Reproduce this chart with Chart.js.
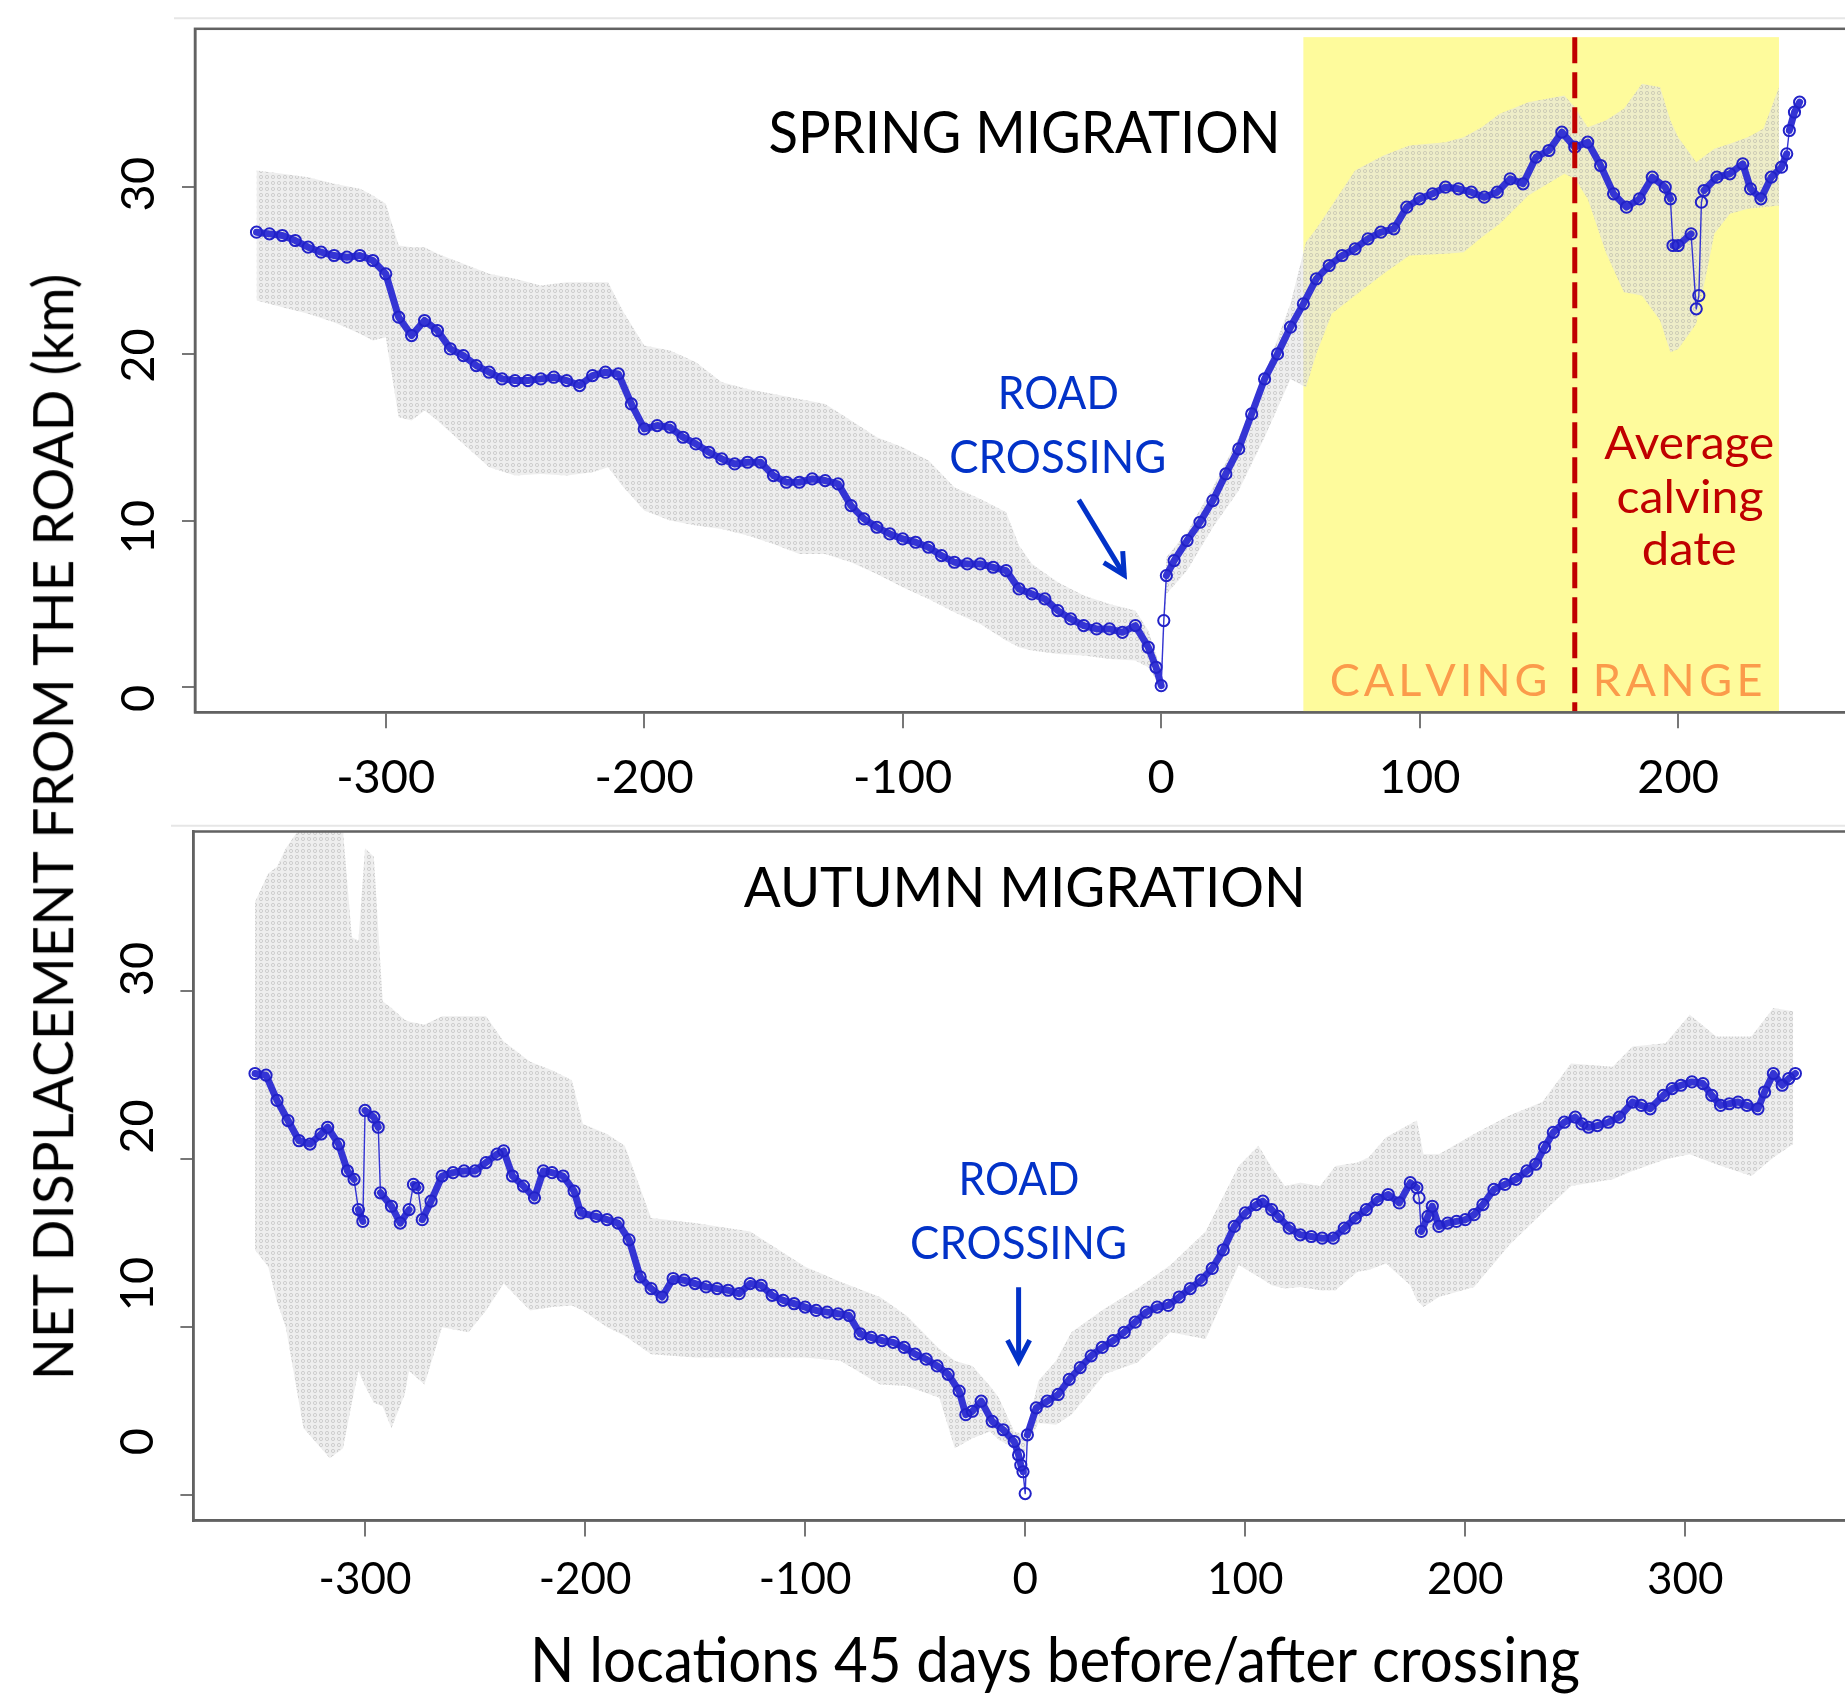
<!DOCTYPE html>
<html>
<head>
<meta charset="utf-8">
<script src="https://cdn.jsdelivr.net/npm/chart.js@4.4.1/dist/chart.umd.min.js"></script>
<style>
  html, body { margin: 0; padding: 0; background: #fff; }
  body { width: 1845px; height: 1698px; overflow: hidden; position: relative; }
  canvas { position: absolute; left: 0; }
  #springCanvas { top: 0; }
  #autumnCanvas { top: 800px; }
  #yTitle { position: absolute; font: 56px Lato; line-height: 56px; white-space: nowrap; color: #000; transform-origin: 50% 50%; }
</style>
</head>
<body>
<canvas id="springCanvas" width="1880" height="800"></canvas>
<canvas id="autumnCanvas" width="1880" height="898"></canvas>
<div id="yTitle">NET DISPLACEMENT FROM THE ROAD (km)</div>
<script>
// ---- data (x = location index around crossing, y = km) ----

// spring migration, mean displacement
const springX = [-350,-345,-340,-335,-330,-325,-320,-315,-310,-305,-300,-295,-290,-285,-280,-275,-270,-265,-260,-255,
  -250,-245,-240,-235,-230,-225,-220,-215,-210,-205,-200,-195,-190,-185,-180,-175,-170,-165,-160,-155,
  -150,-145,-140,-135,-130,-125,-120,-115,-110,-105,-100,-95,-90,-85,-80,-75,-70,-65,-60,-55,
  -50,-45,-40,-35,-30,-25,-20,-15,-10,-5,-2,0,1,2,
  5,10,15,20,25,30,35,40,45,50,55,60,65,70,75,80,85,90,95,100,105,110,115,120,125,130,135,140,145,150,
  155,160,165,170,175,180,185,190,195,197,198,200,205,207,208,209,210,215,220,225,228,232,236,240,242,243,245,247];
const springY = [27.3,27.2,27.1,26.8,26.4,26.1,25.9,25.8,25.9,25.6,24.8,22.2,21.1,22.0,21.4,20.3,19.9,19.3,18.9,18.5,
  18.4,18.4,18.5,18.6,18.4,18.1,18.7,18.9,18.8,17.0,15.5,15.7,15.6,15.0,14.6,14.1,13.7,13.4,13.5,13.5,
  12.7,12.3,12.3,12.5,12.4,12.2,10.9,10.1,9.6,9.2,8.9,8.7,8.4,7.9,7.5,7.4,7.4,7.2,7.0,5.9,
  5.6,5.3,4.6,4.1,3.7,3.5,3.5,3.3,3.7,2.4,1.2,0.1,4.0,6.7,
  7.6,8.8,9.9,11.2,12.8,14.3,16.4,18.5,20.0,21.6,23.0,24.5,25.3,25.9,26.3,26.9,27.3,27.5,28.8,29.3,29.6,30.0,29.9,29.7,29.4,29.7,30.5,30.2,31.8,32.2,
  33.3,32.4,32.7,31.3,29.6,28.8,29.3,30.6,30.0,29.3,26.5,26.5,27.2,22.7,23.5,29.1,29.8,30.6,30.8,31.4,29.9,29.3,30.6,31.2,32.0,33.4,34.5,35.1];

// spring migration, grey envelope
const springBandX = [-350,-340,-330,-320,-310,-305,-300,-295,-290,-285,-280,-270,-260,-250,-240,-230,-220,-214,-208,-200,
  -190,-180,-170,-160,-150,-140,-130,-120,-110,-100,-90,-80,-70,-60,-55,-50,-40,-30,-20,-10,-5,0,
  2,10,20,30,40,50,56,60,66,75,81,86,96,110,117,124,131,142,156,160,165,172,179,186,193,197,200,207,214,220,227,233,239];
const springBandHi = [31.0,30.8,30.6,30.2,29.9,29.5,29.0,26.5,26.4,26.4,26.0,25.4,24.8,24.5,24.1,24.3,24.3,24.3,22.5,20.5,
  20.2,19.5,18.3,17.9,17.6,17.3,17.0,16.0,15.0,14.4,13.6,12.0,11.3,10.5,8.5,7.4,6.3,5.5,5.0,4.6,3.4,1.0,
  7.8,9.3,12.0,15.0,18.8,23.0,26.7,27.5,28.9,31.0,31.5,31.9,32.5,32.7,33.0,33.6,34.4,35.1,35.5,34.8,33.6,34.0,34.7,36.2,36.0,34.0,33.0,31.5,32.3,32.6,33.0,33.5,36.0];
const springBandLo = [23.2,22.8,22.4,21.9,21.2,20.8,21.0,16.2,16.0,16.6,16.0,14.6,13.2,12.7,12.8,12.7,12.9,13.2,12.0,10.6,
  10.0,9.7,9.5,9.1,8.6,8.0,8.0,7.5,6.8,6.0,5.3,4.5,3.8,2.8,2.4,2.2,2.0,1.9,1.7,1.6,1.2,0.0,
  5.6,7.0,9.6,11.8,15.0,18.5,18.0,20.0,22.4,23.5,24.2,24.8,25.9,26.0,26.1,27.0,27.8,29.5,30.8,30.5,29.3,26.1,23.7,23.5,22.0,20.1,20.3,21.8,27.2,28.4,28.7,28.8,28.9];

// calving range and average calving date (spring panel)
const calvingRange = [55, 239];
const calvingTop = 39;
const calvingDate = 160;

// autumn migration, mean displacement
const autumnX = [-350,-345,-340,-335,-330,-325,-320,-317,-312,-308,-305,-303,-301,-300,-296,-294,-293,-288,-284,-280,
  -278,-276,-274,-270,-265,-260,-255,-250,-245,-240,-237,-233,-228,-223,-219,-215,-210,-205,-202,-195,
  -190,-185,-180,-175,-170,-165,-160,-155,-150,-145,-140,-135,-130,-125,-120,-115,-110,-105,-100,-95,
  -90,-85,-80,-75,-70,-65,-60,-55,-50,-45,-40,-35,-30,-27,-24,-20,-15,-10,-5,-3,
  -2,-1,0,1,5,10,15,20,25,30,35,40,45,50,55,60,65,70,75,80,
  85,90,95,100,105,108,112,115,120,125,130,135,140,145,150,155,160,165,170,175,
  178,179,180,183,185,188,192,196,200,204,208,213,218,223,228,232,236,240,245,250,
  253,256,260,265,270,276,280,284,290,294,298,303,308,312,316,320,324,328,333,336,340,344,347,350];
const autumnY = [25.1,25.0,23.5,22.3,21.1,20.9,21.5,21.9,20.9,19.3,18.8,17.0,16.3,22.9,22.5,21.9,18.0,17.2,16.2,17.0,
  18.5,18.3,16.4,17.5,19.0,19.2,19.3,19.3,19.8,20.3,20.5,19.0,18.4,17.7,19.3,19.2,19.0,18.1,16.8,16.6,
  16.4,16.2,15.2,13.0,12.3,11.8,12.9,12.8,12.6,12.4,12.3,12.2,12.0,12.6,12.5,11.9,11.6,11.4,11.2,11.0,
  10.9,10.8,10.7,9.6,9.4,9.2,9.1,8.8,8.4,8.1,7.7,7.2,6.2,4.8,5.0,5.6,4.4,3.9,3.2,2.4,
  1.8,1.4,0.1,3.6,5.2,5.6,6.0,6.9,7.6,8.3,8.8,9.2,9.7,10.3,10.9,11.2,11.3,11.8,12.3,12.8,
  13.5,14.6,16.0,16.8,17.3,17.5,17.0,16.6,15.9,15.5,15.4,15.3,15.3,15.9,16.5,17.0,17.6,17.9,17.4,18.6,
  18.3,17.7,15.7,16.6,17.2,16.0,16.2,16.3,16.4,16.7,17.3,18.2,18.5,18.8,19.3,19.7,20.7,21.6,22.2,22.5,
  22.1,21.9,22.0,22.2,22.5,23.4,23.2,23.0,23.8,24.2,24.4,24.6,24.5,23.8,23.2,23.3,23.4,23.2,23.0,24.0,25.1,24.4,24.8,25.1];

// autumn migration, grey envelope
const autumnBandX = [-350,-344,-340,-336,-328,-316,-310,-306,-303,-300,-296,-292,-288,-282,-280,-273,-265,-253,-245,-237,
  -225,-215,-206,-201,-190,-182,-170,-150,-125,-100,-84,-66,-54,-39,-32,-24,-16,-12,-5,0,
  1,6,14,21,36,51,66,82,97,106,112,118,125,134,141,151,156,164,175,178,181,188,204,220,235,248,267,276,291,302,314,330,340,349];
const autumnBandHi = [35.3,37.0,37.4,38.5,40,40,39.5,33.2,33.0,38.5,38.0,29.4,29.0,28.3,28.2,28.0,28.5,28.5,28.5,27.0,
  25.8,25.3,24.7,22.1,21.5,20.8,16.5,16.2,15.7,13.6,12.7,11.8,10.7,8.7,8.0,7.7,6.5,5.8,3.8,3.6,
  4.0,6.8,8.0,9.7,11.1,12.3,13.7,15.7,19.6,20.8,19.5,18.4,18.6,18.4,19.6,19.8,20.1,21.3,22.1,22.3,20.3,20.3,21.5,22.6,23.4,25.7,25.5,26.7,26.9,28.6,27.3,27.3,29.0,28.8];
const autumnBandLo = [14.6,13.6,11.5,10.0,4.0,2.2,2.8,5.5,7.4,6.5,5.5,5.3,4.0,6.0,7.4,6.6,10.0,9.7,11.0,12.6,
  11.0,11.2,11.3,11.0,10.0,9.5,8.4,8.2,8.2,8.2,8.0,6.6,6.5,5.8,2.8,3.4,3.8,3.3,2.8,2.6,
  3.0,4.3,4.2,4.8,7.2,7.9,9.7,9.3,13.7,13.0,12.5,12.3,12.4,12.2,12.2,13.3,13.4,13.8,12.5,11.6,11.2,11.8,12.4,14.9,16.8,18.4,18.8,19.3,20.0,20.3,19.7,19.0,20.1,20.9];

// ---- styles ----
const BLUE_LINE = 'rgb(52,52,212)';
const BLUE_PT = 'rgb(34,34,200)';
const YELLOW = 'rgb(254,251,156)';
const TXT_BLUE = '#0232c8';
const TXT_RED = '#c00000';
const TXT_ORANGE = '#fb9b4b';
const FRAME = '#626262';

Chart.defaults.font.family = 'Lato';

// speckled grey fill, a bit like the stacked grey circles of the original
function bandPattern() {
  const c = document.createElement('canvas');
  c.width = 6; c.height = 6;
  const g = c.getContext('2d');
  g.fillStyle = 'rgba(228,228,228,0.62)';
  g.fillRect(0, 0, 6, 6);
  g.strokeStyle = 'rgba(150,150,150,0.45)';
  g.lineWidth = 0.8;
  g.beginPath(); g.arc(3, 3, 1.6, 0, Math.PI * 2); g.stroke();
  return g.createPattern(c, 'repeat');
}
const BAND = bandPattern();

function pts(xs, ys) {
  if (xs.length !== ys.length) console.error('length mismatch', xs.length, ys.length);
  return xs.map(function (x, i) { return { x: x, y: ys[i] }; });
}

function drawFitted(ctx, text, cx, baseline, width, size, color) {
  ctx.save();
  ctx.font = size + 'px Lato';
  const w = ctx.measureText(text).width;
  ctx.translate(cx, baseline);
  ctx.scale(width / w, 1);
  ctx.fillStyle = color;
  ctx.textAlign = 'center';
  ctx.textBaseline = 'alphabetic';
  ctx.fillText(text, 0, 0);
  ctx.restore();
}

// letter-spaced word stretched between two x pixels
function drawSpaced(ctx, text, left, right, baseline, size, color) {
  ctx.save();
  ctx.font = size + 'px Lato';
  ctx.fillStyle = color;
  ctx.textAlign = 'left';
  ctx.textBaseline = 'alphabetic';
  const chars = text.split('');
  const ws = chars.map(function (c) { return ctx.measureText(c).width; });
  const total = ws.reduce(function (a, b) { return a + b; }, 0);
  const gap = (right - left - total) / (chars.length - 1);
  let x = left;
  chars.forEach(function (c, i) { ctx.fillText(c, x, baseline); x += ws[i] + gap; });
  ctx.restore();
}

function drawArrow(ctx, x0, y0, x1, y1, color) {
  const ang = Math.atan2(y1 - y0, x1 - x0), h = 24, spread = 0.48;
  ctx.save();
  ctx.strokeStyle = color;
  ctx.lineWidth = 5;
  ctx.beginPath(); ctx.moveTo(x0, y0); ctx.lineTo(x1, y1); ctx.stroke();
  ctx.beginPath();
  ctx.moveTo(x1 - h * Math.cos(ang - spread), y1 - h * Math.sin(ang - spread));
  ctx.lineTo(x1, y1);
  ctx.lineTo(x1 - h * Math.cos(ang + spread), y1 - h * Math.sin(ang + spread));
  ctx.stroke();
  ctx.restore();
}

// draws the R-style box, annotations, rotated y labels etc.
function decoPlugin(p) {
  return {
    id: 'deco',
    beforeDatasetsDraw: function (chart) {
      if (!p.calving) return;
      const ctx = chart.ctx, a = chart.chartArea, x = chart.scales.x, y = chart.scales.y;
      const l = x.getPixelForValue(p.calving.range[0]), r = x.getPixelForValue(p.calving.range[1]);
      const t = y.getPixelForValue(p.calving.top);
      ctx.save();
      ctx.fillStyle = YELLOW;
      ctx.fillRect(l, t, r - l, a.bottom - t);
      ctx.restore();
    },
    afterDatasetsDraw: function (chart) {
      const ctx = chart.ctx, a = chart.chartArea, x = chart.scales.x, y = chart.scales.y;
      if (p.calving) {
        const px = x.getPixelForValue(p.calving.date);
        ctx.save();
        ctx.strokeStyle = TXT_RED;
        ctx.lineWidth = 5;
        ctx.setLineDash([26, 9]);
        ctx.beginPath();
        ctx.moveTo(px, y.getPixelForValue(p.calving.top));
        ctx.lineTo(px, a.bottom);
        ctx.stroke();
        ctx.restore();
      }
      ctx.save();
      ctx.strokeStyle = FRAME;
      ctx.lineWidth = 2.5;
      ctx.strokeRect(a.left, a.top, a.right - a.left, a.bottom - a.top);
      // faint rule above the panel
      ctx.strokeStyle = '#e6e6e6';
      ctx.lineWidth = 2;
      ctx.beginPath();
      ctx.moveTo(p.rule.x, a.top - p.rule.gap);
      ctx.lineTo(chart.width, a.top - p.rule.gap);
      ctx.stroke();
      ctx.restore();
    },
    afterDraw: function (chart) {
      const ctx = chart.ctx, a = chart.chartArea, x = chart.scales.x, y = chart.scales.y;
      // y tick labels, rotated like R's default las=0
      ctx.save();
      ctx.font = '47px Lato';
      ctx.fillStyle = '#000';
      ctx.textAlign = 'center';
      ctx.textBaseline = 'middle';
      y.ticks.forEach(function (t) {
        const py = y.getPixelForValue(t.value) + p.labelShift[0] + (t.value - 15) * p.labelShift[1];
        ctx.save();
        ctx.translate(a.left - 56, py);
        ctx.rotate(-Math.PI / 2);
        ctx.fillText(String(t.value), 0, 0);
        ctx.restore();
      });
      ctx.restore();

      p.notes.forEach(function (n) {
        drawFitted(ctx, n.text, x.getPixelForValue(n.x), y.getPixelForValue(n.y), n.width, n.size, n.color);
      });
      p.spaced.forEach(function (n) {
        drawSpaced(ctx, n.text, x.getPixelForValue(n.from), x.getPixelForValue(n.to), y.getPixelForValue(n.y), n.size, n.color);
      });
      p.arrows.forEach(function (ar) {
        drawArrow(ctx, x.getPixelForValue(ar.from[0]), y.getPixelForValue(ar.from[1]),
          x.getPixelForValue(ar.to[0]), y.getPixelForValue(ar.to[1]), TXT_BLUE);
      });
      if (p.xTitle) {
        drawFitted(ctx, p.xTitle.text, p.xTitle.cx, p.xTitle.baseline, p.xTitle.width, p.xTitle.size, '#000');
      }
    }
  };
}

function makePanel(canvasId, p) {
  const steep = function (c) {
    const dx = Math.abs(c.p1.parsed.x - c.p0.parsed.x);
    const dy = Math.abs(c.p1.parsed.y - c.p0.parsed.y);
    return dy / Math.max(dx, 1) > 0.6;
  };
  return new Chart(document.getElementById(canvasId), {
    type: 'line',
    data: {
      datasets: [
        // envelope drawn behind (higher order = further back)
        { label: 'upper', order: 2, data: pts(p.bandX, p.bandHi), fill: '+1', backgroundColor: BAND,
          borderColor: 'rgba(0,0,0,0)', borderWidth: 0, pointRadius: 0, tension: 0 },
        { label: 'lower', order: 3, data: pts(p.bandX, p.bandLo), fill: false,
          borderColor: 'rgba(0,0,0,0)', borderWidth: 0, pointRadius: 0, tension: 0 },
        { label: 'mean', order: 1, data: pts(p.x, p.y), fill: false, tension: 0,
          borderColor: BLUE_LINE, borderWidth: 7, borderJoinStyle: 'round', borderCapStyle: 'round',
          pointRadius: 5.6, pointBorderWidth: 2, pointBorderColor: BLUE_PT, pointBackgroundColor: 'rgba(0,0,0,0)',
          segment: { borderWidth: function (c) { return steep(c) ? 1.4 : 7; } } }
      ]
    },
    options: {
      responsive: false,
      animation: false,
      devicePixelRatio: 1,
      events: [],
      layout: { padding: { top: p.padTop, right: p.padRight, left: 0, bottom: 0 } },
      plugins: { legend: { display: false }, tooltip: { enabled: false } },
      scales: {
        x: {
          type: 'linear', min: p.xMin, max: p.xMax,
          afterFit: function (s) { s.height = p.xAxisH; },
          ticks: { stepSize: 100, includeBounds: false, autoSkip: false, maxRotation: 0,
            font: { size: p.xTickSize }, color: '#000', padding: p.xTickPad },
          grid: { drawOnChartArea: false, drawTicks: true, tickLength: 16, color: '#777', lineWidth: 2 },
          border: { display: true, color: FRAME, width: 2.5 }
        },
        y: {
          type: 'linear', min: -1.5, max: 39.5,
          afterFit: function (s) { s.width = p.yAxisW; },
          ticks: { stepSize: 10, includeBounds: false, display: false },
          grid: { drawOnChartArea: false, drawTicks: true, tickLength: 13, color: '#777', lineWidth: 2 },
          border: { display: true, color: FRAME, width: 2.5 }
        }
      }
    },
    plugins: [decoPlugin(p)]
  });
}

makePanel('springCanvas', {
  x: springX, y: springY, bandX: springBandX, bandHi: springBandHi, bandLo: springBandLo,
  xMin: -373.8, xMax: 268.8,
  padTop: 28.8, padRight: 24, yAxisW: 195, xAxisH: 87.7,
  xTickSize: 47, xTickPad: 21.5,
  labelShift: [4, -0.47],
  rule: { x: 174, gap: 10.5 },
  calving: { range: calvingRange, top: calvingTop, date: calvingDate },
  notes: [
    { text: 'SPRING MIGRATION', x: -52.9, y: 32.05, width: 512, size: 58, color: '#000' },
    { text: 'ROAD', x: -39.8, y: 16.69, width: 121, size: 46, color: TXT_BLUE },
    { text: 'CROSSING', x: -40.0, y: 12.83, width: 217, size: 46, color: TXT_BLUE },
    { text: 'Average', x: 204.3, y: 13.67, width: 170, size: 47, color: TXT_RED },
    { text: 'calving', x: 204.6, y: 10.46, width: 147, size: 47, color: TXT_RED },
    { text: 'date', x: 204.3, y: 7.35, width: 95, size: 47, color: TXT_RED }
  ],
  spaced: [
    { text: 'CALVING', from: 65.2, to: 149.4, y: -0.5, size: 45, color: TXT_ORANGE },
    { text: 'RANGE', from: 167, to: 232.6, y: -0.5, size: 45, color: TXT_ORANGE }
  ],
  arrows: [{ from: [-31.9, 11.24], to: [-14.3, 6.73] }]
});

makePanel('autumnCanvas', {
  x: autumnX, y: autumnY, bandX: autumnBandX, bandHi: autumnBandHi, bandLo: autumnBandLo,
  xMin: -378, xMax: 378,
  padTop: 31.5, padRight: 23, yAxisW: 193.4, xAxisH: 177.5,
  xTickSize: 44, xTickPad: 17,
  labelShift: [-38, 1.05],
  rule: { x: 171, gap: 5.7 },
  calving: null,
  notes: [
    { text: 'AUTUMN MIGRATION', x: -0.2, y: 34.98, width: 562, size: 56, color: '#000' },
    { text: 'ROAD', x: -2.8, y: 17.86, width: 121, size: 46, color: TXT_BLUE },
    { text: 'CROSSING', x: -3.0, y: 14.09, width: 217, size: 46, color: TXT_BLUE }
  ],
  spaced: [],
  arrows: [{ from: [-3.0, 12.38], to: [-3.0, 7.97] }],
  xTitle: { text: 'N locations 45 days before/after crossing', cx: 1055, baseline: 882, width: 1050, size: 62 }
});

// shared y title spanning both panels
(function () {
  const el = document.getElementById('yTitle');
  const w = el.offsetWidth;
  el.style.left = (51.5 - w / 2) + 'px';
  el.style.top = (827 - 28) + 'px';
  el.style.transform = 'rotate(-90deg) scaleX(' + (1106 / w) + ')';
}());
</script>
</body>
</html>
